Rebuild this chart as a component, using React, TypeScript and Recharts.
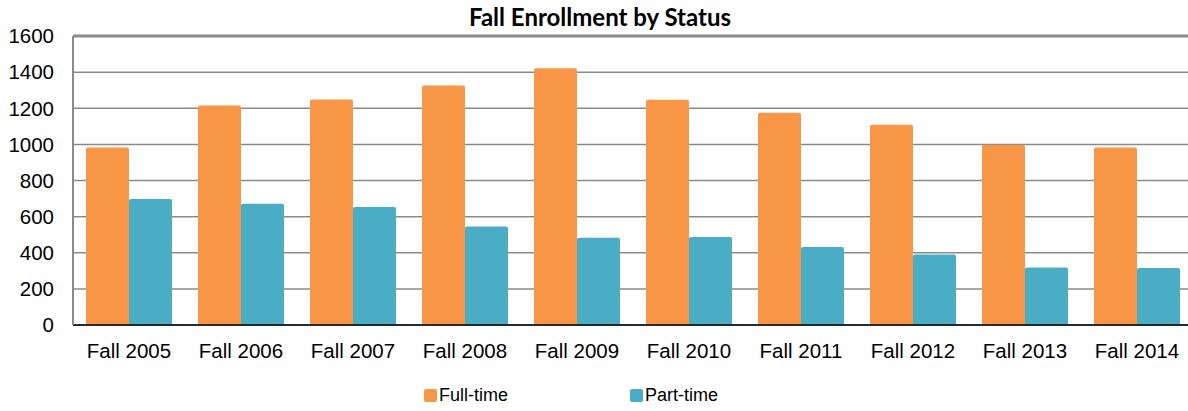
import React from 'react';
import {
  BarChart,
  Bar,
  XAxis,
  YAxis,
  CartesianGrid,
  ReferenceLine
} from 'recharts';

const years = ['Fall 2005', 'Fall 2006', 'Fall 2007', 'Fall 2008', 'Fall 2009', 'Fall 2010', 'Fall 2011', 'Fall 2012', 'Fall 2013', 'Fall 2014'];
const fullTime = [983, 1215, 1249, 1326, 1422, 1247, 1175, 1108, 998, 983];
const partTime = [697, 671, 653, 546, 483, 487, 432, 391, 319, 315];
const yTicks = [0, 200, 400, 600, 800, 1000, 1200, 1400, 1600];

const ORANGE = '#F79646';
const TEAL = '#4BACC6';

const series = [
  { key: 'full', name: 'Full-time', color: ORANGE },
  { key: 'part', name: 'Part-time', color: TEAL }
];

const data = years.map((name, i) => ({ name, full: fullTime[i], part: partTime[i] }));

const font = 'Liberation Sans, Arial, sans-serif';

export default function App() {
  return (
    <div style={{ position: 'absolute', left: 0, top: 0, width: 1188, height: 411, overflow: 'hidden', background: '#fff' }}>
      <div style={{ position: 'absolute', left: 0, top: 2, width: 1200, textAlign: 'center', fontFamily: 'Lato, sans-serif', fontWeight: 700, fontSize: 24, color: '#000' }}>
        Fall Enrollment by Status
      </div>
      <BarChart
        width={1193}
        height={411}
        data={data}
        margin={{ top: 36, right: 0, left: 0, bottom: 0 }}
        barCategoryGap={13}
        barGap={0}
      >
        <CartesianGrid vertical={false} stroke="#8a8a8a" strokeWidth={1.5} />
        <XAxis
          dataKey="name"
          height={86}
          axisLine={{ stroke: '#000', strokeWidth: 1.5 }}
          tickLine={false}
          tickMargin={12}
          tick={{ fill: '#000', fontSize: 20.5, fontFamily: font }}
          interval={0}
        />
        <YAxis
          width={73}
          domain={[0, 1600]}
          ticks={yTicks}
          axisLine={{ stroke: '#8a8a8a', strokeWidth: 2 }}
          tickLine={false}
          tickSize={0}
          tickMargin={19}
          tick={{ fill: '#000', fontSize: 20.5, fontFamily: font }}
        />
        <ReferenceLine y={1600} stroke="#8a8a8a" strokeWidth={3} />
        {series.map(s => (
          <Bar key={s.key} dataKey={s.key} name={s.name} fill={s.color} radius={[2, 2, 0, 0]} isAnimationActive={false} />
        ))}
      </BarChart>
      <div style={{ position: 'absolute', left: 0, top: 385, display: 'flex', alignItems: 'center', fontFamily: font, fontSize: 18, color: '#000' }}>
        {series.map((s, i) => (
          <div key={s.key} style={{ display: 'flex', alignItems: 'center', marginLeft: i === 0 ? 424 : 122 }}>
            <span style={{ display: 'inline-block', width: 13, height: 13, background: s.color, borderRadius: 2, marginRight: 2 }} />
            <span>{s.name}</span>
          </div>
        ))}
      </div>
    </div>
  );
}
